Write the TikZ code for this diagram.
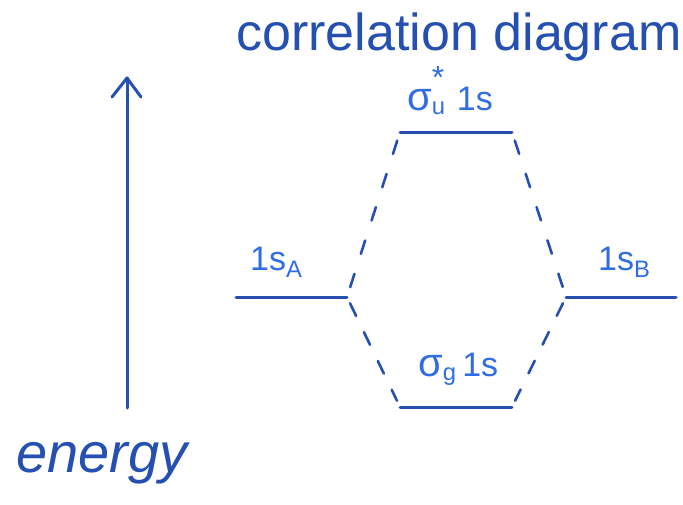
\documentclass[tikz,border=0pt]{standalone}
\usepackage{fontspec}
\setmainfont{Liberation Sans}
\definecolor{lineblue}{HTML}{2550B2}
\definecolor{labelblue}{HTML}{2F6CE5}
\begin{document}
\begin{tikzpicture}[x=1pt,y=-1pt,
  level/.style={draw=lineblue,line width=3pt,line cap=round},
  connlong/.style={draw=lineblue,line width=2.6pt,line cap=round,shorten <=9pt,shorten >=9pt,dash pattern=on 14pt off 21pt},
  connshort/.style={draw=lineblue,line width=2.6pt,line cap=round,shorten <=7pt,shorten >=7pt,dash pattern=on 14pt off 18pt},
  lab/.style={text=labelblue,font=\fontsize{34}{36}\selectfont,inner sep=0pt,anchor=base west},
  every node/.style={inner sep=0pt}]
\useasboundingbox (0,0) rectangle (683,504);
% title
\node[text=lineblue,font=\fontsize{52}{56}\selectfont,anchor=base] (title) at (459,50) {correlation diagram};
% energy axis
\coordinate (ebot) at (127,408);
\coordinate (etop) at (127,78);
\draw[lineblue,line width=3pt,line cap=round,line join=round] (ebot) -- (etop);
\draw[lineblue,line width=3pt,line cap=round,line join=round] (112,97) -- (etop) -- (141,97);
\node[text=lineblue,font=\fontsize{56}{60}\selectfont\itshape,anchor=base] (energy) at (102,472) {energy};
% levels
\coordinate (aL) at (236,297); \coordinate (aR) at (347,297);
\coordinate (bL) at (566,297); \coordinate (bR) at (676,297);
\coordinate (tL) at (400,132); \coordinate (tR) at (512,132);
\coordinate (gL) at (400,407); \coordinate (gR) at (512,407);
\draw[level] (aL) -- (aR);
\draw[level] (bL) -- (bR);
\draw[level] (tL) -- (tR);
\draw[level] (gL) -- (gR);
% connectors
\draw[connlong] (tL) -- (aR);
\draw[connshort] (aR) -- (gL);
\draw[connlong] (tR) -- (bL);
\draw[connshort] (bL) -- (gR);
% labels
\node[lab] (la) at (250,270) {1s\textsubscript{A}};
\node[lab] (lb) at (598,270) {1s\textsubscript{B}};
\node[lab] (lt) at (407,110) {{\fontsize{40}{40}\selectfont σ}\rlap{\raisebox{0.62em}{\fontsize{32}{32}\selectfont *}}\textsubscript{u}\,\,1s};
\node[lab] (lg) at (418,376) {{\fontsize{40}{40}\selectfont σ}\textsubscript{g}\,1s};
\end{tikzpicture}
\end{document}
